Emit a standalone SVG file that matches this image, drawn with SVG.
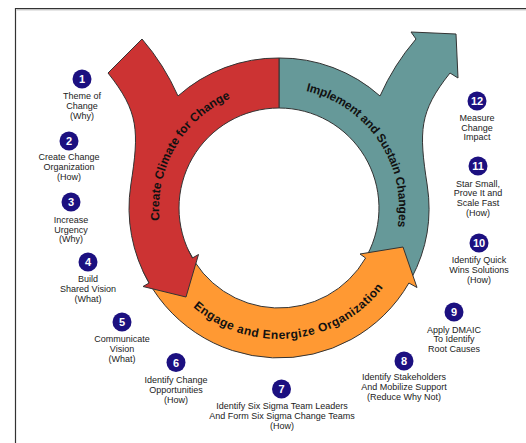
<svg xmlns="http://www.w3.org/2000/svg" width="526" height="443" viewBox="0 0 526 443">
<style>
.band{stroke:#333;stroke-width:1;stroke-linejoin:miter}
.red{fill:#CC3333}
.teal{fill:#669999}
.orange{fill:#FF9933}
.arc-label{font-family:"Liberation Sans",Arial,sans-serif;font-weight:bold;font-size:12px;fill:#111}
.num-bg{fill:#1c1080}
.num{font-family:"Liberation Sans",Arial,sans-serif;font-weight:bold;font-size:11px;fill:#fff;text-anchor:middle}
.lbl{font-family:"Liberation Sans",Arial,sans-serif;font-size:9px;fill:#222;text-anchor:middle}
</style>
<defs>
<path id="redTextPath" d="M159.7,220.5 A120,120 0 0 1 258.2,89.8"/>
<path id="tealTextPath" d="M306,91.1 A120,120 0 0 1 391.8,249"/>
<path id="orangeTextPath" d="M193.1,306.9 A131,131 0 0 0 402.1,252.8"/>
</defs>
<rect x="0" y="0" width="526" height="443" fill="#fff"/>
<g id="frame" fill="none">
<path d="M15.5,443 L15.5,8.5 L526,8.5" stroke="#333" stroke-width="1.2"/>
<path d="M16.5,9.8 L526,9.8" stroke="#aaa" stroke-width="1"/>
</g>
<g id="connectors">
<g id="implement-sustain">
<path class="band teal" d="M279,58 A150,150 0 0 1 380,96 Q394,64.5 416,39 L411,32 L456,34 L458,78 L450,73 C419,112 418.8,130.7 427.2,185 A150,150 0 0 1 411.4,278.4 L367.3,254.9 A100,100 0 0 0 279,108 Z"/>
<text class="arc-label" letter-spacing="-0.2"><textPath href="#tealTextPath">Implement and Sustain Changes</textPath></text>
</g>
<g id="engage-energize">
<path class="band orange" d="M143.1,271.4 A150,150 0 0 0 408.9,283 L417,287.5 L403,247 L360,254 L365.6,258 A100,100 0 0 1 188.4,250.3 Z"/>
<text class="arc-label" letter-spacing="0.5"><textPath href="#orangeTextPath">Engage and Energize Organization</textPath></text>
</g>
<g id="create-climate">
<path class="band red" d="M108,73 L142,39 Q164,64.5 178,96 A150,150 0 0 1 279,58 L279,108 A100,100 0 0 0 192.4,258 L198.5,254.5 L186,297 L143,286.5 L149.1,283 A150,150 0 0 1 130.8,185 C139.2,130.7 139,112 108,73 Z"/>
<text class="arc-label"><textPath href="#redTextPath">Create Climate for Change</textPath></text>
</g>
</g>
<g id="step1"><circle class="num-bg" cx="82" cy="79" r="9.5"/><text class="num" x="82" y="83">1</text>
<text class="lbl"><tspan x="82" y="99.2">Theme of</tspan><tspan x="82" y="109.2">Change</tspan><tspan x="82" y="119.2">(Why)</tspan></text></g>
<g id="step2"><circle class="num-bg" cx="69" cy="141" r="9.5"/><text class="num" x="69" y="145">2</text>
<text class="lbl"><tspan x="69" y="160.2">Create Change</tspan><tspan x="69" y="170">Organization</tspan><tspan x="69" y="180">(How)</tspan></text></g>
<g id="step3"><circle class="num-bg" cx="71" cy="202" r="9.5"/><text class="num" x="71" y="206">3</text>
<text class="lbl"><tspan x="71" y="222.7">Increase</tspan><tspan x="71" y="232.5">Urgency</tspan><tspan x="71" y="242.2">(Why)</tspan></text></g>
<g id="step4"><circle class="num-bg" cx="88" cy="262" r="9.5"/><text class="num" x="88" y="266">4</text>
<text class="lbl"><tspan x="88" y="281.5">Build</tspan><tspan x="88" y="291.5">Shared Vision</tspan><tspan x="88" y="301.5">(What)</tspan></text></g>
<g id="step5"><circle class="num-bg" cx="122" cy="322" r="9.5"/><text class="num" x="122" y="326">5</text>
<text class="lbl"><tspan x="122" y="342.2">Communicate</tspan><tspan x="122" y="351.9">Vision</tspan><tspan x="122" y="361.5">(What)</tspan></text></g>
<g id="step6"><circle class="num-bg" cx="176" cy="362.5" r="9.5"/><text class="num" x="176" y="366.5">6</text>
<text class="lbl"><tspan x="176" y="383.2">Identify Change</tspan><tspan x="176" y="392.9">Opportunities</tspan><tspan x="176" y="402.5">(How)</tspan></text></g>
<g id="step7"><circle class="num-bg" cx="281.5" cy="389" r="9.5"/><text class="num" x="281.5" y="393">7</text>
<text class="lbl"><tspan x="282" y="409.2">Identify Six Sigma Team Leaders</tspan><tspan x="282" y="419.2">And Form Six Sigma Change Teams</tspan><tspan x="282" y="428.9">(How)</tspan></text></g>
<g id="step8"><circle class="num-bg" cx="404" cy="361" r="9.5"/><text class="num" x="404" y="365">8</text>
<text class="lbl"><tspan x="404" y="380.2">Identify Stakeholders</tspan><tspan x="404" y="390.2">And Mobilize Support</tspan><tspan x="404" y="399.9">(Reduce Why Not)</tspan></text></g>
<g id="step9"><circle class="num-bg" cx="454" cy="312" r="9.5"/><text class="num" x="454" y="316">9</text>
<text class="lbl"><tspan x="454" y="332.5">Apply DMAIC</tspan><tspan x="454" y="342.2">To Identify</tspan><tspan x="454" y="351.9">Root Causes</tspan></text></g>
<g id="step10"><circle class="num-bg" cx="479" cy="243" r="9.5"/><text class="num" x="479" y="247">10</text>
<text class="lbl"><tspan x="479" y="263.2">Identify Quick</tspan><tspan x="479" y="273.2">Wins Solutions</tspan><tspan x="479" y="283.2">(How)</tspan></text></g>
<g id="step11"><circle class="num-bg" cx="478" cy="166" r="9.5"/><text class="num" x="478" y="170">11</text>
<text class="lbl"><tspan x="478" y="186.5">Star Small,</tspan><tspan x="478" y="195.9">Prove It and</tspan><tspan x="478" y="205.5">Scale Fast</tspan><tspan x="478" y="215.5">(How)</tspan></text></g>
<g id="step12"><circle class="num-bg" cx="477" cy="101" r="9.5"/><text class="num" x="477" y="105">12</text>
<text class="lbl"><tspan x="477" y="120.9">Measure</tspan><tspan x="477" y="130.5">Change</tspan><tspan x="477" y="139.9">Impact</tspan></text></g>
</svg>
